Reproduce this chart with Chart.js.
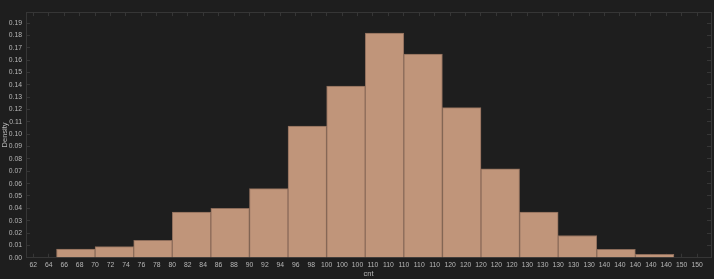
<!DOCTYPE html>
<html>
<head>
<meta charset="utf-8">
<script src="https://cdn.jsdelivr.net/npm/chart.js@4"></script>
<style>
  html, body { margin: 0; padding: 0; background: #1e1e1e; }
  #wrap { width: 714px; height: 279px; }
</style>
</head>
<body>
<div id="wrap"><canvas id="histChart"></canvas></div>
<script>
// bin edges (cnt) and density per bin
var binStarts = [65, 70, 75, 80, 85, 90, 95, 100, 105, 110, 115, 120, 125, 130, 135, 140];
var binWidth = 5;
var density = [0.007, 0.009, 0.014, 0.037, 0.040, 0.056, 0.1066, 0.139, 0.182, 0.165, 0.1216, 0.072, 0.037, 0.018, 0.0068, 0.0028];

var xMin = 61.05, xMax = 149.8, xStep = 2;
var yMin = 0, yMax = 0.199, yStep = 0.01;

var points = [];
for (var i = 0; i < binStarts.length; i++) {
    points.push({ x: binStarts[i] + binWidth / 2, y: density[i] });
}

var axisColor = '#363636';
var textColor = '#b8b8b8';
Chart.defaults.font.family = '"Liberation Sans", Arial, sans-serif';
Chart.defaults.font.size = 6.8;
Chart.defaults.color = textColor;

function fixSize(w, h) {
    return function (scale) {
        if (w !== null) scale.width = w;
        if (h !== null) scale.height = h;
    };
}

var ctx = document.getElementById('histChart').getContext('2d');
var histChart = new Chart(ctx, {
    type: 'bar',
    data: {
        datasets: [{
            data: points,
            backgroundColor: '#c0957a',
            borderColor: '#8c6c5a',
            borderWidth: 1,
            barPercentage: 1,
            categoryPercentage: 1,
            xAxisID: 'xb',
            yAxisID: 'y'
        }]
    },
    options: {
        responsive: true,
        maintainAspectRatio: false,
        animation: false,
        layout: { padding: 0 },
        plugins: {
            legend: { display: false },
            tooltip: { enabled: false }
        },
        scales: {
            // hidden axis the bars sit on, so bar width follows the bin width
            xb: {
                type: 'linear',
                position: 'bottom',
                display: false,
                offset: false,
                min: xMin,
                max: xMax,
                ticks: { stepSize: binWidth, includeBounds: false }
            },
            x: {
                type: 'linear',
                position: 'bottom',
                offset: false,
                min: xMin,
                max: xMax,
                grid: { drawOnChartArea: false, tickLength: -4, color: axisColor, offset: false },
                border: { color: axisColor },
                ticks: {
                    stepSize: xStep,
                    includeBounds: false,
                    autoSkip: false,
                    maxRotation: 0,
                    padding: 7,
                    callback: function (v) { return String(Number(v.toPrecision(2))); }
                },
                title: { display: true, text: 'cnt', padding: { top: 0, bottom: 1 }, color: textColor, font: { size: 7.5 } },
                afterFit: fixSize(null, 21.3)
            },
            x2: {
                type: 'linear',
                position: 'top',
                offset: false,
                min: xMin,
                max: xMax,
                grid: { drawOnChartArea: false, tickLength: -4, color: axisColor, offset: false },
                border: { color: axisColor },
                ticks: { stepSize: xStep, includeBounds: false, autoSkip: false, display: false },
                afterFit: fixSize(null, 5)
            },
            y: {
                type: 'linear',
                position: 'left',
                min: yMin,
                max: yMax,
                grid: { drawOnChartArea: false, tickLength: -4, color: axisColor },
                border: { color: axisColor },
                ticks: {
                    stepSize: yStep,
                    includeBounds: false,
                    autoSkip: false,
                    padding: 8,
                    callback: function (v) { return v.toFixed(2); }
                },
                title: { display: true, text: 'Density', padding: 0, color: textColor, font: { size: 7.5 } },
                afterFit: fixSize(26, null)
            },
            y2: {
                type: 'linear',
                position: 'right',
                min: yMin,
                max: yMax,
                grid: { drawOnChartArea: false, tickLength: -4, color: axisColor },
                border: { color: axisColor },
                ticks: { stepSize: yStep, includeBounds: false, autoSkip: false, display: false },
                afterFit: fixSize(3, null)
            }
        }
    }
});
</script>
</body>
</html>
